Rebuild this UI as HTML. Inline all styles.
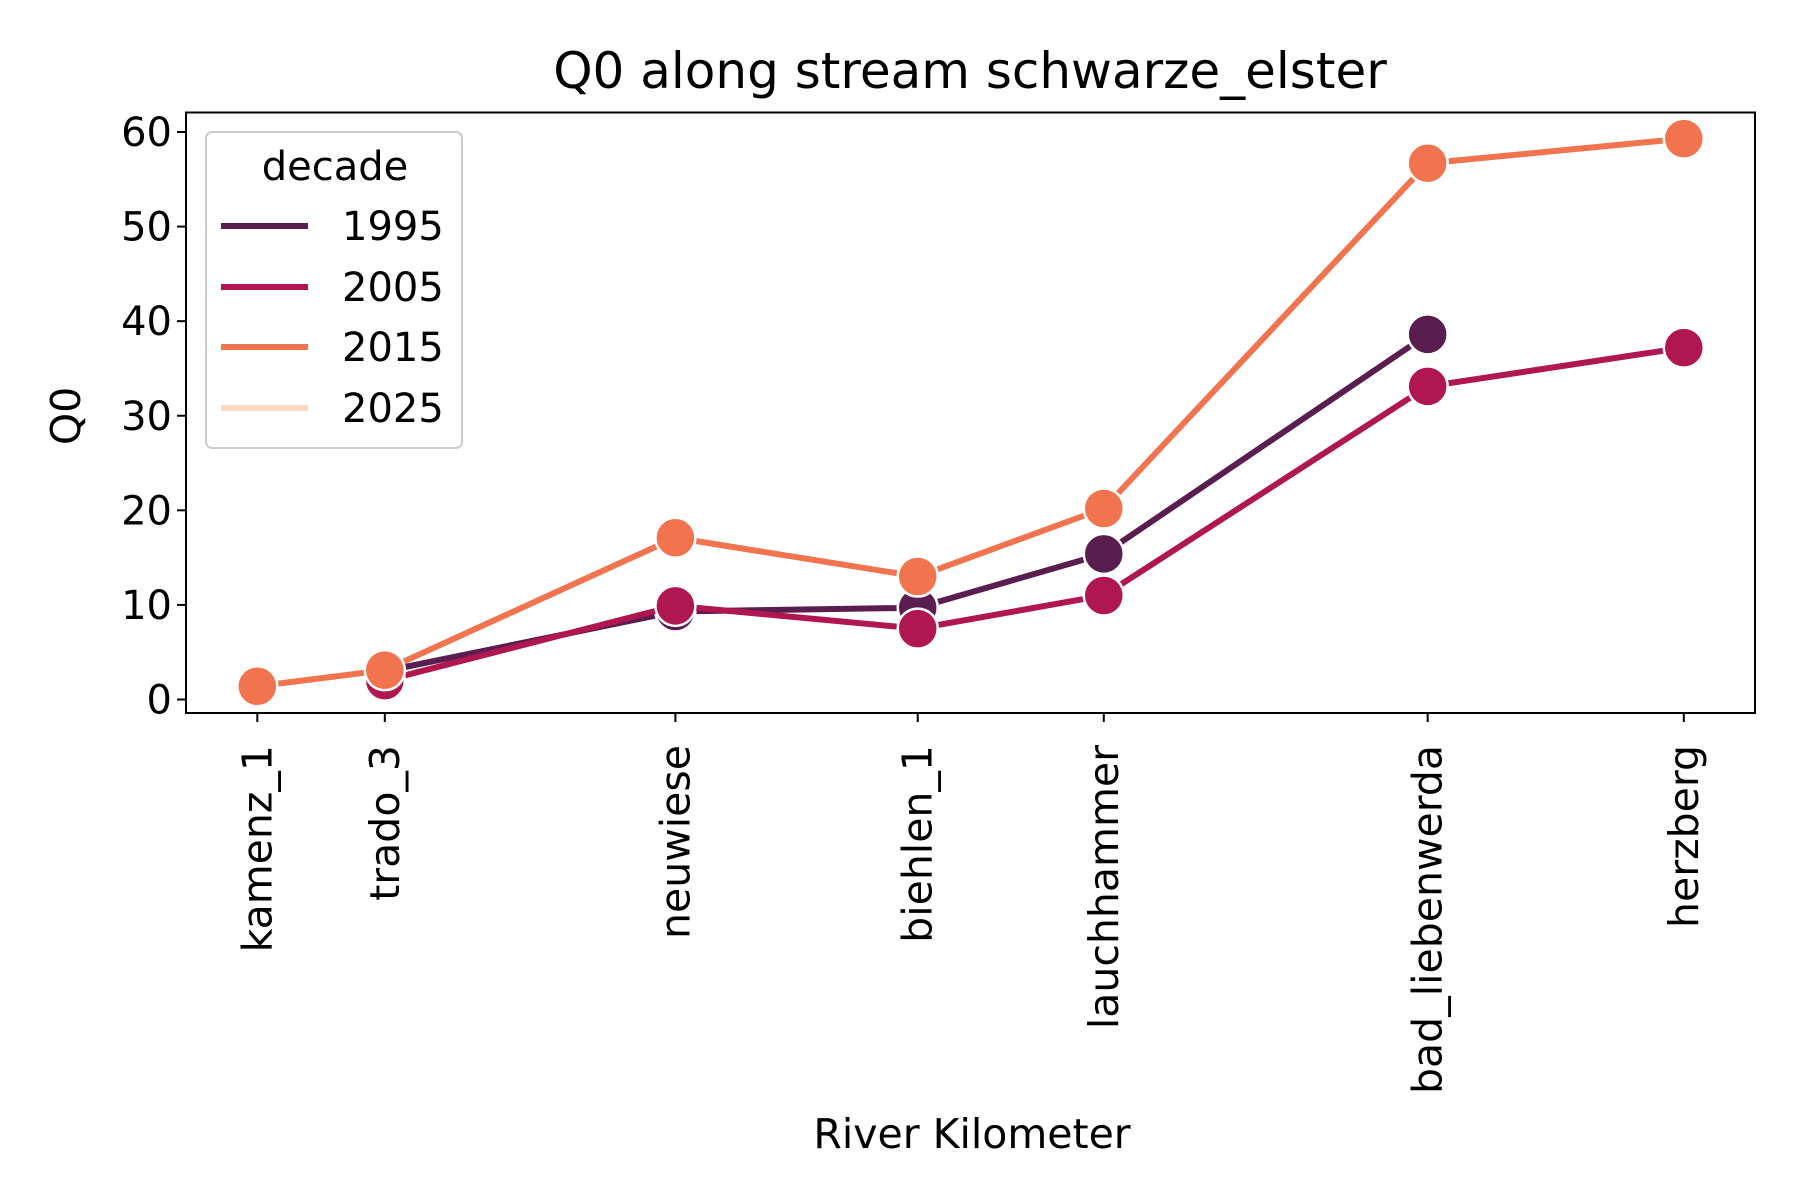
<!DOCTYPE html>
<html><head><meta charset="utf-8"><style>
body{margin:0;background:#fff}
svg{display:block;font-family:"DejaVu Sans","Liberation Sans",sans-serif}
</style></head><body>
<svg id="chart" width="1800" height="1200" viewBox="0 0 1800 1200">
<rect width="1800" height="1200" fill="#fff"/>
<text x="970" y="88" font-size="50" text-anchor="middle">Q0 along stream schwarze_elster</text>
<g id="plot"></g>
<rect x="186" y="112.5" width="1569" height="600.5" fill="none" stroke="#000" stroke-width="2"/>
<text x="972" y="1148" font-size="41" text-anchor="middle">River Kilometer</text>
<text transform="translate(80,416) rotate(-90)" font-size="41" text-anchor="middle">Q0</text>
<g>
<rect x="206" y="132" width="256" height="316" rx="6" fill="#fff" fill-opacity="0.8" stroke="#ccc" stroke-width="2"/>
<text x="335" y="180" font-size="40" text-anchor="middle">decade</text>
<g id="legend-entries"></g>
</g>
</svg>
<script>
const stations = ["kamenz_1","trado_3","neuwiese","biehlen_1","lauchhammer","bad_liebenwerda","herzberg"];
const km = [0, 111, 364, 575, 737, 1019, 1242];
const decades = ["1995","2005","2015","2025"];
const colors = ["#5a1d4f","#b0164f","#f1744e","#fbd9c3"];
const q1995 = [null, 3.0, 9.3, 9.7, 15.4, 38.6, null];
const q2005 = [null, 2.0, 9.9, 7.5, 11.0, 33.1, 37.2];
const q2015 = [1.4, 3.1, 17.1, 13.0, 20.2, 56.7, 59.3];
const q2025 = [null, null, null, null, null, null, null];
const yTicks = [0,10,20,30,40,50,60];

const NS="http://www.w3.org/2000/svg";
const L=186,R=1755,T=112.5,B=713;
const xMin=-62.1,xMax=1304;
const x=v=>L+(v-xMin)/(xMax-xMin)*(R-L);
const y=v=>699.5-v*(567.5/60);
const plot=document.getElementById('plot');
function mk(tag,attrs,parent){const e=document.createElementNS(NS,tag);for(const k in attrs)e.setAttribute(k,attrs[k]);(parent||plot).appendChild(e);return e;}

yTicks.forEach(t=>{
  const l=mk('line',{x1:L-9,x2:L,y1:y(t),y2:y(t),stroke:'#000','stroke-width':2});
  
  
  const tx=mk('text',{x:L-14,y:y(t)+14,'font-size':40,'text-anchor':'end'});
  tx.textContent=t;
  
  
});
stations.forEach((s,i)=>{
  const l=mk('line',{x1:x(km[i]),x2:x(km[i]),y1:B,y2:B+9,stroke:'#000','stroke-width':2});
  
  
  const tx=mk('text',{transform:`translate(${x(km[i])+14},${B+32}) rotate(-90)`,'font-size':41,'text-anchor':'end'});
  tx.textContent=s;
  
  
});
const series=[q1995,q2005,q2015,q2025];
series.forEach((vals,si)=>{
  const pts=[];
  vals.forEach((v,i)=>{if(v!==null)pts.push([x(km[i]),y(v)]);});
  if(pts.length>1){
    const p=mk('polyline',{points:pts.map(p=>p.join(',')).join(' '),fill:'none',stroke:colors[si],'stroke-width':6,'stroke-linejoin':'round','stroke-linecap':'round'});
    
    
  }
  pts.forEach(pt=>{
    const c=mk('circle',{cx:pt[0],cy:pt[1],r:20,fill:colors[si],stroke:'#fff','stroke-width':2.5});
    
    
  });
});
const lg=document.getElementById('legend-entries');
const ly=[226,287,347,408];
decades.forEach((d,i)=>{
  const l=mk('line',{x1:221,x2:308,y1:ly[i],y2:ly[i],stroke:colors[i],'stroke-width':6},lg);
  
  
  const t=mk('text',{x:342,y:ly[i]+14,'font-size':40},lg);
  t.textContent=d;
  
  
});
</script>
</body></html>
